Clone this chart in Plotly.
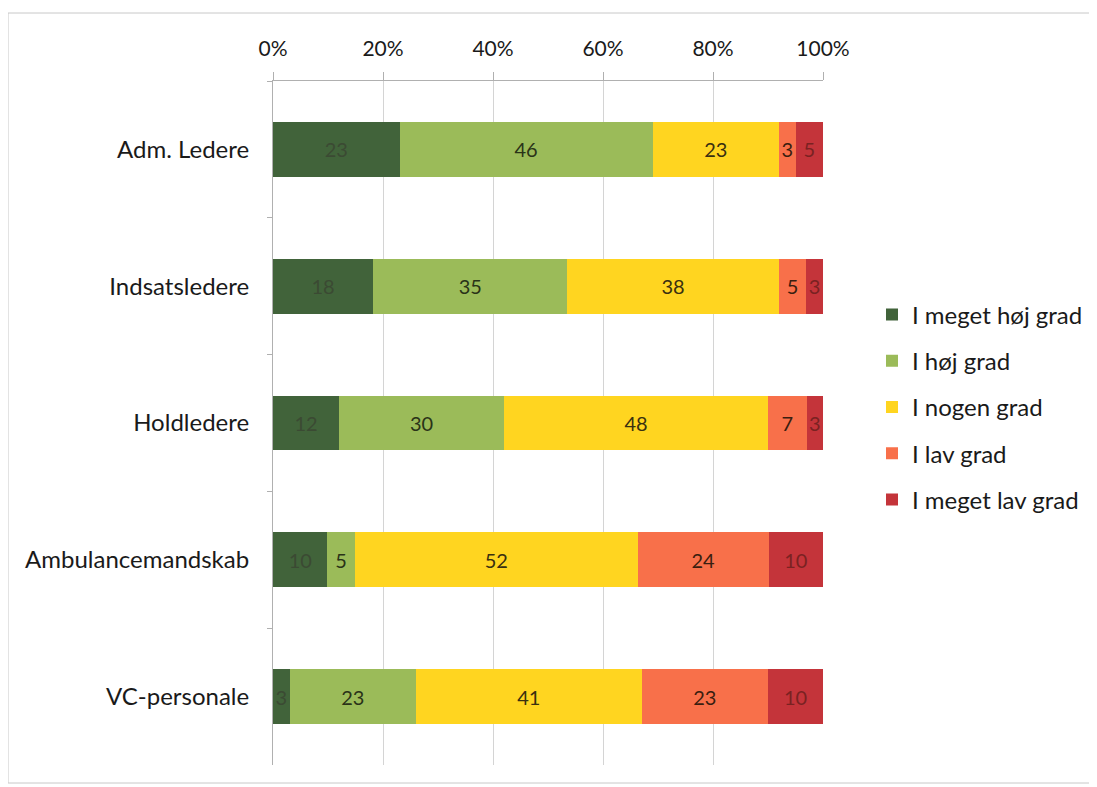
import plotly.graph_objects as go

categories = ["Adm. Ledere", "Indsatsledere", "Holdledere", "Ambulancemandskab", "VC-personale"]
series_names = ["I meget høj grad", "I høj grad", "I nogen grad", "I lav grad", "I meget lav grad"]
meget_hoj = [23, 18, 12, 10, 3]
hoj = [46, 35, 30, 5, 23]
nogen = [23, 38, 48, 52, 41]
lav = [3, 5, 7, 24, 23]
meget_lav = [5, 3, 3, 10, 10]
tick_vals = [0, 20, 40, 60, 80, 100]
tick_text = ["0%", "20%", "40%", "60%", "80%", "100%"]

series = [meget_hoj, hoj, nogen, lav, meget_lav]
colors = ["#41633A", "#9BBB59", "#FFD520", "#F8704A", "#C4343A"]
text_colors = ["#3b4a33", "#2a3318", "#3a3010", "#3a1e10", "#7a2222"]

FONT = "Lato, 'Open Sans', sans-serif"

# page body has an 8px margin; plot area should sit at x 273..823, y 81..765 on screen
OFF = 8
L, T = 273 - OFF, 81 - OFF
PW, PH = 550, 684
W, H = 1097, 787

fig = go.Figure()
for name, vals, col, tcol in zip(series_names, series, colors, text_colors):
    fig.add_trace(go.Bar(
        y=categories, x=vals, name=name, orientation="h",
        marker=dict(color=col, line=dict(width=0)),
        text=[str(v) for v in vals], textposition="inside",
        insidetextanchor="middle", textangle=0, constraintext="none",
        textfont=dict(size=20, color=tcol, family=FONT),
        legendgroup=name, cliponaxis=False,
    ))

fig.update_layout(
    width=W, height=H,
    barmode="stack", barnorm="percent", bargap=0.6,
    paper_bgcolor="white", plot_bgcolor="white",
    margin=dict(l=L, r=W - L - PW, t=T, b=H - T - PH),
    font=dict(family=FONT, color="#1a1a1a"),
    showlegend=True,
    legend=dict(
        x=(872 - 273) / PW, y=(765 - 407) / PH, xanchor="left", yanchor="middle",
        traceorder="grouped", tracegroupgap=12,
        font=dict(size=24, color="#1a1a1a", family=FONT),
        itemwidth=30,
    ),
    xaxis=dict(
        side="top", range=[0, 100], tickvals=tick_vals, ticktext=tick_text,
        showgrid=True, gridcolor="#d4d4d4", gridwidth=1,
        showline=True, linecolor="#b0b0b0", linewidth=1,
        ticks="outside", ticklen=8, tickcolor="#b0b0b0",
        tickfont=dict(size=21, color="#1a1a1a", family=FONT),
        zeroline=False, ticklabelstandoff=8,
    ),
    yaxis=dict(
        autorange="reversed", showline=True, linecolor="#b0b0b0", linewidth=1,
        ticks="outside", tickson="boundaries", ticklen=5, tickcolor="#b0b0b0",
        tickfont=dict(size=24, color="#1a1a1a", family=FONT),
        showgrid=False, ticklabelstandoff=18,
    ),
    shapes=[dict(
        type="rect", xref="paper", yref="paper",
        x0=(8 - 273) / PW, x1=(1092 - 273) / PW,
        y0=(765 - 783) / PH, y1=(765 - 13) / PH,
        line=dict(color="#c8c8c8", width=1), fillcolor="rgba(0,0,0,0)", layer="below",
    )],
)

fig.write_html("out.html")
